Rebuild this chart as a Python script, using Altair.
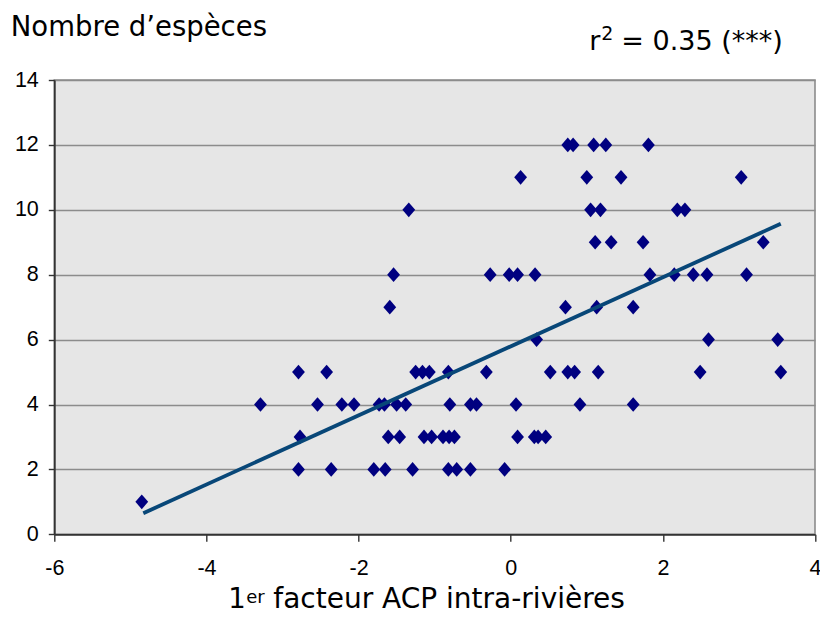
import altair as alt
import pandas as pd

# ---- data ----
species_x = [
    -4.85,
    -2.79, -2.36, -1.80, -1.65, -1.29, -0.82, -0.71, -0.53, -0.08,
    -2.77, -1.61, -1.46, -1.14, -1.04, -0.89, -0.81, -0.74, 0.09, 0.31, 0.36, 0.46,
    -3.29, -2.54, -2.22, -2.06, -1.73, -1.66, -1.50, -1.38, -0.80, -0.53, -0.45, 0.07, 0.91, 1.61,
    -2.79, -2.42, -1.25, -1.16, -1.07, -0.82, -0.32, 0.52, 0.75, 0.84, 1.15, 2.49, 3.55,
    0.34, 2.60, 3.51,
    -1.59, 0.72, 1.13, 1.61,
    -1.54, -0.27, -0.02, 0.09, 0.32, 1.83, 2.15, 2.40, 2.58, 3.10,
    1.11, 1.32, 1.74, 3.32,
    -1.34, 1.05, 1.18, 2.19, 2.29,
    0.13, 1.00, 1.45, 3.03,
    0.75, 0.82, 1.09, 1.25, 1.81,
]
species_y = (
    [1]
    + [2] * 9
    + [3] * 12
    + [4] * 14
    + [5] * 13
    + [6] * 3
    + [7] * 4
    + [8] * 10
    + [9] * 4
    + [10] * 5
    + [11] * 4
    + [12] * 5
)

fit_x = [-4.83, 3.55]
fit_y = [0.65, 9.57]

x_ticks = [-6, -4, -2, 0, 2, 4]
y_ticks = [0, 2, 4, 6, 8, 10, 12, 14]

y_title = "Nombre d\u2019espèces"
x_title_main = "1"
x_title_sup = "er"
x_title_rest = "facteur ACP intra-rivières"
r2_main = "r"
r2_sup = "2"
r2_rest = "= 0.35 (***)"

W, H = 760.7, 454.3

pts = pd.DataFrame({"x": species_x, "y": species_y})
fit = pd.DataFrame({"x": fit_x, "y": fit_y})

xscale = alt.Scale(domain=[-6, 4], nice=False, zero=False)
yscale = alt.Scale(domain=[0, 14], nice=False, zero=False)

xaxis = alt.Axis(
    values=x_ticks, title=None, grid=False,
    domainColor="#333333", domainWidth=1.8,
    tickColor="#333333", tickSize=7, tickWidth=1.4,
    labelFont="Liberation Sans", labelFontSize=21.5, labelColor="black",
    labelPadding=16, labelFlush=False, labelOverlap=False,
    labelExpr="'' + datum.value",
)
yaxis = alt.Axis(
    values=y_ticks, title=None, grid=True,
    gridColor="#8c8c8c", gridWidth=1.3,
    domainColor="#333333", domainWidth=1.8,
    tickColor="#333333", tickSize=6, tickWidth=1.4,
    labelFont="Liberation Sans", labelFontSize=21.5, labelColor="black",
    labelPadding=10, labelFlush=False, labelOverlap=False,
    labelExpr="'' + datum.value",
)

diamond = "M-1,0L0,-1.15L1,0L0,1.15Z"

points = alt.Chart(pts).mark_point(
    shape=diamond, filled=True, color="#000080", size=164, opacity=1
).encode(
    x=alt.X("x:Q", scale=xscale, axis=xaxis),
    y=alt.Y("y:Q", scale=yscale, axis=yaxis),
)

line = alt.Chart(fit).mark_line(color="#084778", strokeWidth=3.8).encode(
    x=alt.X("x:Q", scale=xscale),
    y=alt.Y("y:Q", scale=yscale),
)


def label(text, x, y, size, align="left"):
    return alt.Chart(pd.DataFrame({"t": [text]})).mark_text(
        font="DejaVu Sans", fontSize=size, color="black",
        align=align, baseline="alphabetic",
    ).encode(text="t:N", x=alt.value(x), y=alt.value(y))


texts = [
    label(y_title, -43.5, -44, 27.5),
    label(r2_main, 535, -30, 27),
    label(r2_sup, 547, -40.5, 19),
    label(r2_rest, 567, -30, 27),
    label(x_title_main, 174, 528.3, 27.5),
    label(x_title_sup, 192, 522.7, 18),
    label(x_title_rest, 219, 528.3, 28),
]

chart = alt.layer(points, line, *texts).properties(
    width=W, height=H,
    padding={"left": 54.3, "top": 80, "right": 5.0, "bottom": 84.7},
    autosize=alt.AutoSizeParams(type="none"),
    background="white",
).configure_view(
    fill="#e6e6e6", stroke="#8c8c8c", strokeWidth=1.6
)

chart.save("out.html", embed_options={"renderer": "svg", "actions": False})
